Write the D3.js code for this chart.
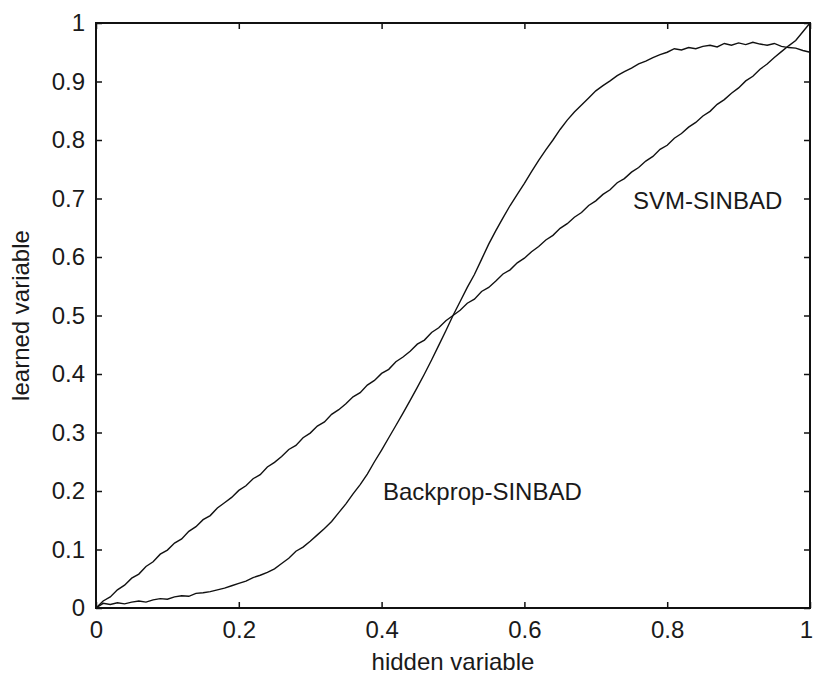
<!DOCTYPE html>
<html>
<head>
<meta charset="utf-8">
<script src="https://cdn.jsdelivr.net/npm/d3@7"></script>
<style>
  body { margin: 0; background: #fff; }
  text { font-family: "Liberation Sans", Arial, sans-serif; fill: #1a1a1a; }
</style>
</head>
<body>
<div id="chart"></div>
<script>
// hidden variable, step 0.01
var hidden = [0.00,0.01,0.02,0.03,0.04,0.05,0.06,0.07,0.08,0.09,
              0.10,0.11,0.12,0.13,0.14,0.15,0.16,0.17,0.18,0.19,
              0.20,0.21,0.22,0.23,0.24,0.25,0.26,0.27,0.28,0.29,
              0.30,0.31,0.32,0.33,0.34,0.35,0.36,0.37,0.38,0.39,
              0.40,0.41,0.42,0.43,0.44,0.45,0.46,0.47,0.48,0.49,
              0.50,0.51,0.52,0.53,0.54,0.55,0.56,0.57,0.58,0.59,
              0.60,0.61,0.62,0.63,0.64,0.65,0.66,0.67,0.68,0.69,
              0.70,0.71,0.72,0.73,0.74,0.75,0.76,0.77,0.78,0.79,
              0.80,0.81,0.82,0.83,0.84,0.85,0.86,0.87,0.88,0.89,
              0.90,0.91,0.92,0.93,0.94,0.95,0.96,0.97,0.98,0.99,1.00];

var backprop = [0.000,0.008,0.006,0.009,0.007,0.010,0.012,0.010,0.014,0.016,
                0.015,0.019,0.021,0.020,0.025,0.026,0.028,0.031,0.034,0.038,
                0.042,0.046,0.052,0.056,0.061,0.067,0.076,0.085,0.097,0.104,
                0.114,0.125,0.136,0.148,0.163,0.178,0.195,0.211,0.229,0.250,
                0.270,0.291,0.312,0.333,0.355,0.377,0.400,0.424,0.449,0.474,
                0.500,0.524,0.548,0.570,0.596,0.622,0.645,0.667,0.688,0.707,
                0.726,0.746,0.765,0.783,0.800,0.818,0.834,0.848,0.860,0.872,
                0.884,0.893,0.901,0.910,0.917,0.923,0.930,0.935,0.941,0.946,
                0.950,0.956,0.954,0.958,0.956,0.960,0.962,0.959,0.965,0.962,
                0.966,0.963,0.967,0.964,0.962,0.965,0.960,0.958,0.957,0.953,0.950];

var svm = [0.000,0.012,0.019,0.031,0.039,0.051,0.058,0.071,0.079,0.092,
           0.099,0.111,0.118,0.131,0.139,0.151,0.158,0.171,0.180,0.189,
           0.201,0.209,0.221,0.228,0.241,0.249,0.259,0.271,0.278,0.291,
           0.299,0.311,0.318,0.331,0.339,0.349,0.361,0.368,0.381,0.389,
           0.401,0.408,0.421,0.429,0.439,0.451,0.458,0.471,0.479,0.491,
           0.500,0.509,0.521,0.528,0.541,0.548,0.559,0.571,0.578,0.590,
           0.598,0.609,0.618,0.629,0.637,0.649,0.657,0.668,0.676,0.688,
           0.696,0.707,0.715,0.727,0.734,0.745,0.753,0.764,0.772,0.784,
           0.791,0.803,0.811,0.822,0.830,0.841,0.849,0.861,0.869,0.880,
           0.889,0.901,0.909,0.921,0.930,0.941,0.951,0.961,0.970,0.985,1.000];

var xTicks = [0, 0.2, 0.4, 0.6, 0.8, 1];
var yTicks = [0, 0.1, 0.2, 0.3, 0.4, 0.5, 0.6, 0.7, 0.8, 0.9, 1];
var labels = [
  {text: "SVM-SINBAD", x: 0.752, y: 0.682},
  {text: "Backprop-SINBAD", x: 0.402, y: 0.185}
];

var width = 815, height = 684;
var margin = {top: 23, right: 5, bottom: 76, left: 96};
var w = width - margin.left - margin.right,
    h = height - margin.top - margin.bottom;

var svg = d3.select("#chart").append("svg")
    .attr("width", width)
    .attr("height", height);

svg.append("rect").attr("width", width).attr("height", height).style("fill", "#fff");

var g = svg.append("g")
    .attr("transform", "translate(" + margin.left + "," + margin.top + ")");

var x = d3.scaleLinear().domain([0, 1]).range([0, w]);
var y = d3.scaleLinear().domain([0, 1]).range([h, 0]);

var fmt = function(d) { return d3.format("")(d); };

// matlab style: inward ticks on all four sides
function styleAxis(sel, showText) {
  sel.select(".domain").remove();
  sel.selectAll(".tick line").attr("stroke", "#111").attr("stroke-width", 1.5);
  sel.selectAll(".tick text")
     .style("font-size", "24px")
     .style("fill", "#1a1a1a")
     .style("display", showText ? null : "none");
}

var xAxisG = g.append("g")
    .attr("transform", "translate(0," + h + ")")
    .call(d3.axisBottom(x).tickValues(xTicks).tickSizeInner(-6).tickPadding(13).tickFormat(fmt))
    .call(function(s) { styleAxis(s, true); });
// last label sits against the window edge
xAxisG.selectAll(".tick text").filter(function(d) { return d === 1; }).attr("dx", -4);

g.append("g")
    .call(d3.axisTop(x).tickValues(xTicks).tickSizeInner(-6).tickFormat(fmt))
    .call(function(s) { styleAxis(s, false); });

g.append("g")
    .call(d3.axisLeft(y).tickValues(yTicks).tickSizeInner(-6).tickPadding(11).tickFormat(fmt))
    .call(function(s) { styleAxis(s, true); });

g.append("g")
    .attr("transform", "translate(" + w + ",0)")
    .call(d3.axisRight(y).tickValues(yTicks).tickSizeInner(-6).tickFormat(fmt))
    .call(function(s) { styleAxis(s, false); });

g.append("rect")
    .attr("width", w)
    .attr("height", h)
    .style("fill", "none")
    .style("stroke", "#111")
    .style("stroke-width", 2);

var line = d3.line()
    .x(function(d) { return x(d[0]); })
    .y(function(d) { return y(d[1]); });

var series = [backprop, svm];
g.selectAll(".curve")
    .data(series)
    .enter().append("path")
    .attr("class", "curve")
    .attr("d", function(s) { return line(hidden.map(function(v, i) { return [v, s[i]]; })); })
    .style("fill", "none")
    .style("stroke", "#111")
    .style("stroke-width", 1.4);

g.selectAll(".lbl")
    .data(labels)
    .enter().append("text")
    .attr("class", "lbl")
    .attr("x", function(d) { return x(d.x); })
    .attr("y", function(d) { return y(d.y); })
    .style("font-size", "24px")
    .text(function(d) { return d.text; });

// axis titles
svg.append("text")
    .attr("x", margin.left + w / 2)
    .attr("y", 670)
    .attr("text-anchor", "middle")
    .style("font-size", "24px")
    .text("hidden variable");

svg.append("text")
    .attr("transform", "translate(29," + (margin.top + h / 2) + ") rotate(-90)")
    .attr("text-anchor", "middle")
    .style("font-size", "24px")
    .text("learned variable");
</script>
</body>
</html>
